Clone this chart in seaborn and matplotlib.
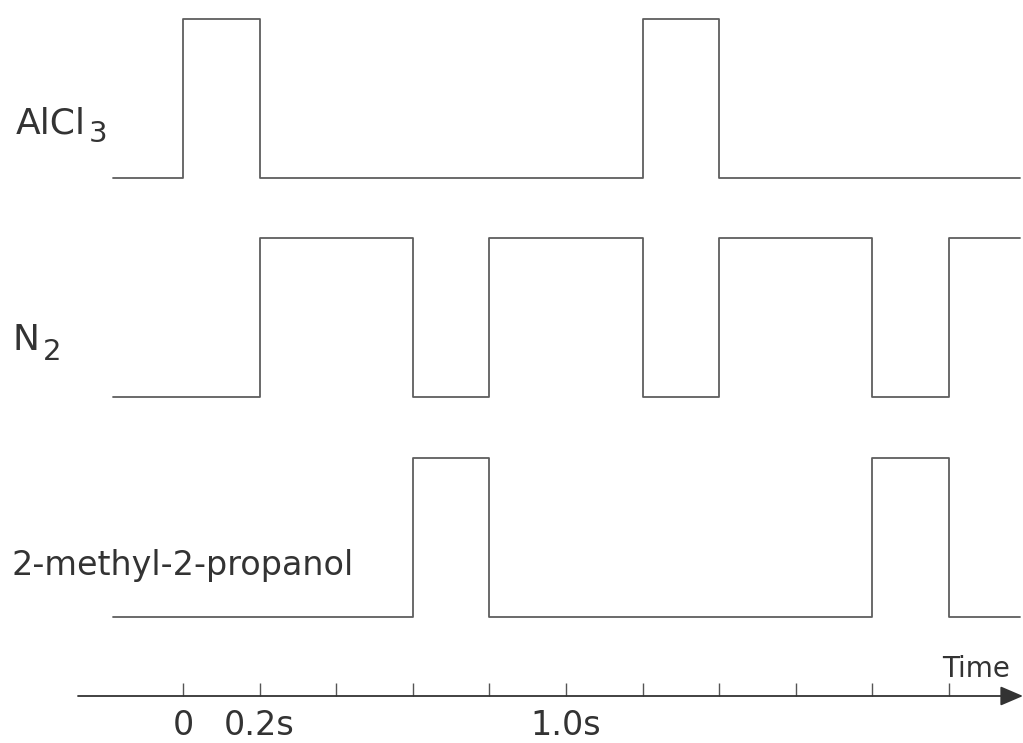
import matplotlib
matplotlib.use("Agg")
import matplotlib.pyplot as plt
import seaborn as sns
import pandas as pd

# ---- data ----
times = [-0.183, 0.0, 0.2, 0.6, 0.8, 1.2, 1.4, 1.8, 2.0, 2.185]
alcl3 = [0, 1, 0, 0, 0, 1, 0, 0, 0, 0]
n2 = [0, 0, 1, 0, 1, 0, 1, 0, 1, 1]
propanol = [0, 0, 0, 1, 0, 0, 0, 1, 0, 0]
signal_names = ["AlCl3", "N2", "2-methyl-2-propanol"]
tick_times = [0.0, 0.2, 0.4, 0.6, 0.8, 1.0, 1.2, 1.4, 1.6, 1.8, 2.0]
tick_labels = {0.0: "0", 0.2: "0.2s", 1.0: "1.0s"}
axis_label = "Time"

# ---- layout (pixel-like vertical units, inverted axis) ----
W, H = 1023, 743
base_levels = [178, 397, 617]
amplitude = 159
gray = "#5e5e5e"
txt = "#333333"

sns.set_style("white")
plt.rcParams["font.family"] = ["DejaVu Sans"]

fig = plt.figure(figsize=(W / 100, H / 100), dpi=100)
ax = fig.add_axes([0, 0, 1, 1])
px = 383.0  # pixels per second
x0 = 183.0
ax.set_xlim(-x0 / px, (W - x0) / px)
ax.set_ylim(H, 0)
ax.axis("off")


def xp(p):
    return (p - x0) / px


rows = []
for name, states, base in zip(signal_names, [alcl3, n2, propanol], base_levels):
    for t, s in zip(times, states):
        rows.append({"signal": name, "time": t, "level": base - amplitude * s})
df = pd.DataFrame(rows)

sns.lineplot(data=df, x="time", y="level", hue="signal", units="signal",
             estimator=None, sort=False, drawstyle="steps-post",
             palette=[gray] * 3, legend=False, linewidth=1.3, ax=ax)

# signal labels (main part + subscript drawn separately)
ax.text(xp(16), 133, "AlCl", fontsize=26, color=txt, ha="left", va="baseline")
ax.text(xp(89), 142, "3", fontsize=21, color=txt, ha="left", va="baseline")
ax.text(xp(13), 350, "N", fontsize=26, color=txt, ha="left", va="baseline")
ax.text(xp(43), 360, "2", fontsize=21, color=txt, ha="left", va="baseline")
ax.text(xp(12), 575, signal_names[2], fontsize=24, color=txt, ha="left", va="baseline")

# time axis
axis_y = 696
ax.annotate("", xy=(xp(1023), axis_y), xytext=(xp(78), axis_y),
            arrowprops=dict(arrowstyle="-|>,head_length=1.4,head_width=0.6",
                            color=txt, lw=1.3, shrinkA=0, shrinkB=0))
ax.vlines(tick_times, axis_y - 13, axis_y, color="#555555", lw=1.0)
for t, lab in tick_labels.items():
    ax.text(t, 735, lab, fontsize=24, color=txt, ha="center", va="baseline")
ax.text(xp(976), 677, axis_label, fontsize=20, color=txt, ha="center", va="baseline")

fig.savefig("out.png", dpi=100, facecolor="white")
